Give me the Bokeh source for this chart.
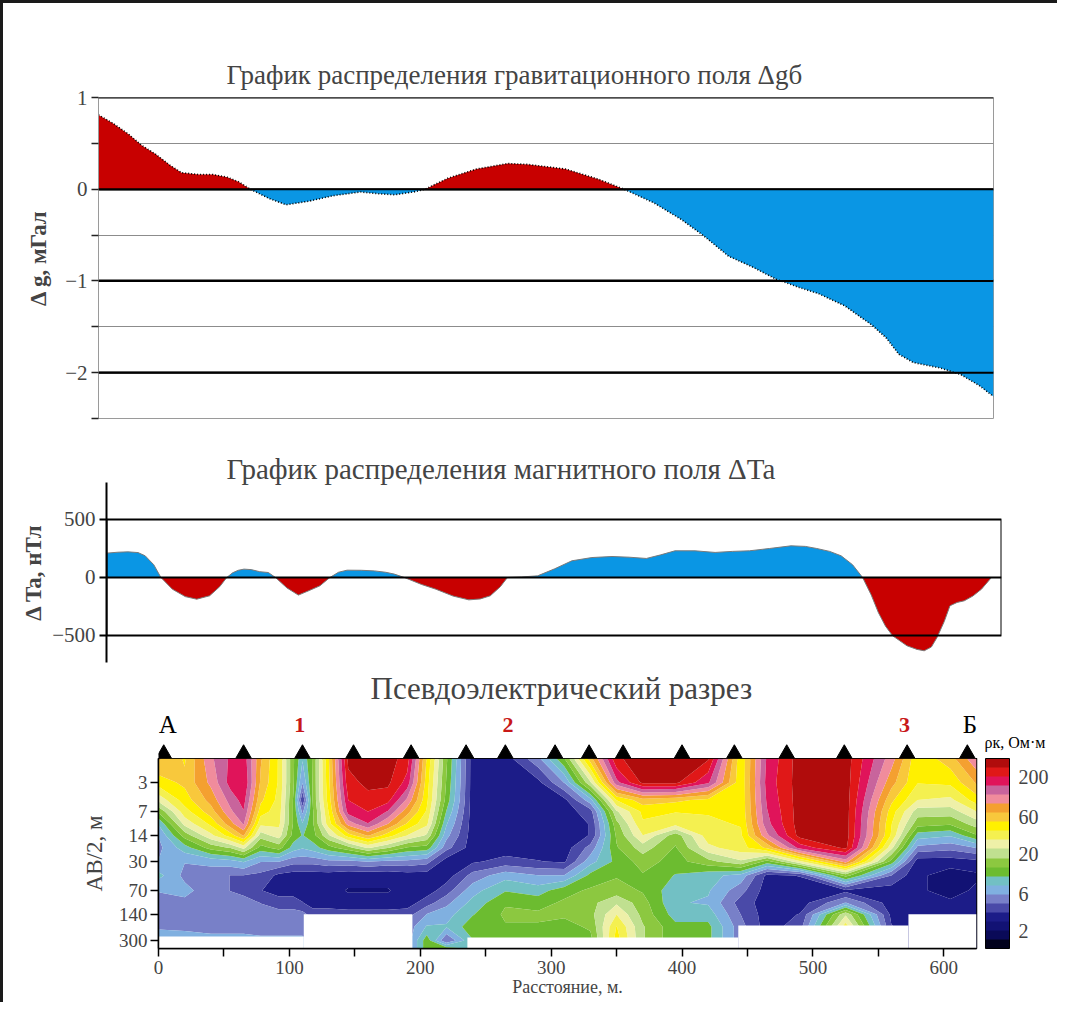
import numpy as np
from bokeh.plotting import figure
from bokeh.layouts import column
from bokeh.models import (Range1d, FixedTicker, Span, ColorBar, LogColorMapper,
                          PrintfTickFormatter, CustomJSTickFormatter)
from bokeh.core.properties import value
from bokeh.embed import file_html
from bokeh.resources import INLINE

# ---------------- data ----------------
# gravity anomaly Δg (mGal) along the profile, distance in m
grav_dist = [0, 10, 21, 30, 40, 50, 58, 70, 80, 90, 98, 106, 119, 131, 147, 164, 183, 196,
             207, 220, 228, 244, 264, 286, 300, 326, 349, 367, 388, 407, 422, 440, 457, 473,
             489, 503, 521, 540, 550, 559, 569, 588, 602, 615, 625]
grav_val = [0.81, 0.72, 0.60, 0.48, 0.38, 0.26, 0.18, 0.16, 0.16, 0.13, 0.08, 0.0, -0.10, -0.17,
            -0.13, -0.07, -0.03, -0.05, -0.06, -0.03, 0.0, 0.12, 0.22, 0.28, 0.27, 0.22, 0.11,
            0.0, -0.15, -0.33, -0.50, -0.73, -0.85, -0.98, -1.07, -1.14, -1.27, -1.48, -1.62,
            -1.80, -1.89, -1.95, -2.02, -2.14, -2.26]
grav_ticks = [-2, -1, 0, 1]
grav_minor_ticks = [-2.5, -1.5, -0.5, 0.5]

# magnetic anomaly ΔTa (nT)
mag_dist = [0, 8, 15, 22, 27, 33, 38, 46, 55, 63, 72, 79, 84, 88, 92, 96, 101, 107, 113, 118,
            126, 134, 142, 149, 156, 162, 168, 178, 187, 195, 201, 208, 220, 230, 242, 253,
            261, 268, 275, 280, 290, 301, 313, 325, 339, 353, 365, 377, 387, 397, 411, 425,
            437, 449, 463, 478, 488, 496, 505, 513, 521, 528, 534, 539, 544, 549, 559, 566,
            571, 576, 580, 585, 589, 594, 599, 605, 611, 618]
mag_val = [210, 218, 221, 215, 187, 110, 0, -101, -165, -187, -158, -80, 0, 40, 62, 72, 68,
           50, 43, 0, -90, -152, -110, -72, 0, 45, 63, 62, 57, 45, 29, 0, -60, -101, -160, -193,
           -185, -158, -80, 0, 5, 14, 75, 144, 172, 181, 175, 164, 195, 230, 230, 216, 225, 230,
           250, 273, 268, 250, 225, 187, 110, 0, -150, -302, -420, -503, -589, -620, -632,
           -600, -517, -380, -244, -215, -201, -160, -101, 0]
mag_ticks = [-500, 0, 500]

# pseudo-section: apparent resistivity (Ohm*m), one list per distance, top -> bottom
sec_dist = [0, 20, 40, 55, 65, 78, 92, 103, 110, 118, 130, 145, 160, 175, 190, 205, 220, 240,
            265, 290, 310, 330, 350, 370, 395, 420, 445, 465, 490, 525, 560, 580, 605, 625]
sec_ab2 = [1.5, 3, 5, 7, 10, 14, 20, 30, 45, 70, 100, 140, 200, 300, 380]
sec_rho = [
    [70, 45, 25, 14, 8, 6, 5.5, 6, 8.5, 6, 5.5, 5.5, 5.5, 8, 8],
    [50, 55, 45, 35, 25, 15, 9, 6, 5.5, 6.5, 5.5, 5.5, 5.5, 7, 8],
    [110, 95, 75, 60, 42, 28, 15, 6.5, 5, 5, 5, 5, 5, 7, 8],
    [160, 170, 130, 110, 80, 45, 18, 7, 4.5, 4.5, 5, 5, 5, 7, 8],
    [180, 200, 170, 150, 120, 70, 25, 8, 4.5, 4.2, 5, 5, 5, 7, 8],
    [70, 65, 55, 45, 32, 20, 12, 6, 4.2, 3.5, 4.5, 5, 5, 6.5, 7],
    [38, 38, 36, 34, 32, 26, 15, 6, 3.2, 3, 4, 5, 5, 6.5, 7],
    [14, 14, 13, 13, 13, 12, 9, 5, 3, 3, 4, 5, 5, 6.5, 7],
    [8, 6, 3.5, 5.5, 8, 10, 8, 5, 3, 3, 3.5, 5, 5, 6.5, 7],
    [14, 14, 14, 13, 13, 12, 9, 5, 3, 2.8, 3, 4, 5, 5, 5],
    [50, 48, 45, 40, 35, 22, 12, 5.5, 3, 2.8, 3, 4, 5, 5, 5],
    [280, 240, 200, 170, 100, 45, 16, 5.5, 2.8, 2.6, 2.8, 4, 5, 5, 5],
    [300, 280, 240, 200, 150, 70, 24, 6, 2.8, 2.6, 2.8, 4, 5, 5, 5],
    [300, 280, 220, 150, 90, 45, 18, 5.5, 2.8, 2.6, 2.8, 4, 5, 5, 5],
    [230, 180, 110, 75, 50, 30, 13, 5.5, 3, 2.8, 3, 4, 5, 5, 5],
    [50, 45, 42, 38, 32, 22, 12, 5, 3, 3, 4, 6, 8, 12, 12],
    [14, 13, 12, 10, 8, 6.5, 5, 3, 3, 4, 5.5, 7, 8, 4.5, 12],
    [3, 3, 3, 3, 3, 3, 3, 3.3, 5, 7, 8.5, 10, 12, 10, 10],
    [3, 3, 3, 3, 3, 3, 3, 3.8, 7, 10, 13, 14, 13, 12, 12],
    [5.5, 3.2, 3, 3, 3, 3, 3, 3.5, 6, 9, 12, 14, 13, 12, 12],
    [13, 6, 3.2, 3, 3, 3, 3, 3.3, 6, 12, 14, 14, 12, 11, 11],
    [60, 22, 7, 4, 3.5, 3.5, 5, 7, 11, 14, 16, 16, 14, 12, 12],
    [250, 140, 40, 22, 16, 14, 13, 11, 13, 15, 22, 30, 40, 45, 45],
    [300, 280, 60, 42, 38, 30, 20, 15, 13, 13, 15, 16, 18, 18, 18],
    [300, 280, 55, 40, 33, 15, 13, 12, 10, 8.5, 8, 9, 11, 11, 11],
    [270, 160, 48, 40, 38, 35, 28, 16, 8.5, 8, 7.5, 9, 11, 11, 11],
    [42, 42, 42, 42, 40, 38, 35, 22, 7, 5, 4, 4.5, 5, 5, 5],
    [160, 170, 160, 150, 140, 110, 55, 12, 3.2, 3, 3, 3, 3, 3, 3],
    [300, 300, 300, 300, 300, 290, 170, 28, 3.5, 3, 3, 3.5, 4, 3, 3],
    [300, 300, 300, 300, 300, 300, 280, 100, 15, 3.2, 6, 22, 35, 35, 35],
    [100, 75, 55, 45, 40, 38, 25, 12, 4.5, 3, 3, 3.2, 3.5, 3.5, 3.5],
    [42, 40, 30, 20, 15, 9, 5.5, 3, 2.8, 2.8, 2.8, 3, 3, 3, 3],
    [60, 42, 28, 20, 14, 8, 5, 3, 2.3, 2.3, 2.8, 3, 3, 3, 3],
    [110, 70, 45, 30, 20, 13, 6, 3.2, 2.5, 2.8, 3, 3, 3, 3, 3],
]
# no-data (blank) parts at the bottom of the section
nodata_start = [0, 111, 236, 443, 573]
nodata_end = [111, 194, 443, 573, 625]
nodata_top = [267, 139, 275, 194, 139]

depth_ticks = [3, 7, 14, 30, 70, 140, 300]
dist_ticks = [0, 100, 200, 300, 400, 500, 600]
dist_minor_ticks = [50, 150, 250, 350, 450, 550]
rho_ticks = [2, 6, 20, 60, 200]

# stations on the profile
sta_dist = [4, 65, 110, 149, 193, 235, 265, 303, 329, 355, 400, 440, 480, 524, 572, 618]
end_labels = ["А", "Б"]
end_label_dist = [7, 620]
point_labels = ["1", "2", "3"]
point_label_dist = [108, 267, 570]

# ---------------- style ----------------
SERIF = "Liberation Serif"
RED = "#c80000"
BLUE = "#0a96e4"
RHO_LOW, RHO_HIGH = 1.17, 343.0
PALETTE = ["#02021c", "#0a0a58", "#121274", "#1c1c88", "#4a4aa8", "#7880c8", "#80b0e0",
           "#72c0c4", "#6cbc30", "#8cc840", "#c0e090", "#eef0a8", "#f4f050", "#fff000",
           "#f8c83c", "#f4a030", "#f08c9c", "#c8649c", "#e0145a", "#e01818", "#b00c0c"]
X_END = 625
LEFT = 95
SEC_W = 818
SEC_H = 190
HEAD_W = 902


def style_title(p, size, offset, standoff):
    p.title.text_font = SERIF
    p.title.text_font_size = size
    p.title.text_font_style = "normal"
    p.title.align = "left"
    p.title.offset = offset
    p.title.standoff = standoff


# ---------------- gravity ----------------
p1 = figure(frame_width=895, frame_height=321, min_border_left=LEFT, min_border_right=30,
            min_border_top=94, min_border_bottom=24, x_range=Range1d(0, X_END),
            y_range=Range1d(-2.5, 1), output_backend="svg", toolbar_location=None,
            title="График распределения гравитационного поля Δgб")
style_title(p1, "27px", 128, 15)
gv = np.array(grav_val)
p1.varea(x=grav_dist, y1=0, y2=np.maximum(gv, 0), fill_color=RED)
p1.varea(x=grav_dist, y1=0, y2=np.minimum(gv, 0), fill_color=BLUE)
p1.line(grav_dist, grav_val, line_color="black", line_width=1.6, line_dash="1 2")
for t in grav_ticks:
    p1.add_layout(Span(location=t, dimension="width", line_color="black", line_width=2))
p1.xaxis.visible = False
p1.xgrid.grid_line_color = None
p1.ygrid.grid_line_color = "black"
p1.ygrid.grid_line_width = 2
p1.ygrid.minor_grid_line_color = "#8c8c8c"
p1.ygrid.minor_grid_line_width = 1
p1.yaxis.ticker = FixedTicker(ticks=grav_ticks, minor_ticks=grav_minor_ticks)
p1.yaxis.axis_line_color = "#9a9a9a"
p1.yaxis.major_tick_out = 7
p1.yaxis.major_tick_in = 0
p1.yaxis.minor_tick_out = 7
p1.yaxis.minor_tick_in = 0
p1.yaxis.major_tick_line_color = "#222222"
p1.yaxis.minor_tick_line_color = "#222222"
p1.yaxis.major_tick_line_width = 1.5
p1.yaxis.minor_tick_line_width = 1.5
p1.yaxis.major_label_text_font = SERIF
p1.yaxis.major_label_text_font_size = "21px"
p1.yaxis.major_label_standoff = 4
p1.yaxis.axis_label = "Δ g, мГал"
p1.yaxis.axis_label_text_font = SERIF
p1.yaxis.axis_label_text_font_size = "23px"
p1.yaxis.axis_label_text_font_style = "bold"
p1.yaxis.axis_label_standoff = 11
p1.outline_line_color = "#9a9a9a"

# ---------------- magnetic ----------------
p2 = figure(frame_width=895, frame_height=180, min_border_left=LEFT, min_border_right=30,
            min_border_top=40, min_border_bottom=6, x_range=Range1d(0, X_END),
            y_range=Range1d(-733, 819), output_backend="svg", toolbar_location=None,
            title="График распределения магнитного поля ΔTa",
            styles={"margin-left": "8px"})
style_title(p2, "29px", 120, -5)
mv = np.array(mag_val)
p2.varea(x=mag_dist, y1=0, y2=np.maximum(mv, 0), fill_color=BLUE)
p2.varea(x=mag_dist, y1=0, y2=np.minimum(mv, 0), fill_color=RED)
p2.line(mag_dist, mag_val, line_color="#7a7a7a", line_width=1)
p2.quad(left=0, right=X_END, bottom=mag_ticks[0], top=mag_ticks[-1], fill_color=None,
        line_color="black", line_width=2)
p2.add_layout(Span(location=0, dimension="width", line_color="black", line_width=2))
p2.xaxis.visible = False
p2.grid.grid_line_color = None
p2.outline_line_color = None
p2.yaxis.ticker = FixedTicker(ticks=mag_ticks)
p2.yaxis.axis_line_width = 2
p2.yaxis.major_tick_out = 7
p2.yaxis.major_tick_in = 0
p2.yaxis.major_tick_line_width = 2
p2.yaxis.minor_tick_line_color = None
p2.yaxis.major_label_text_font = SERIF
p2.yaxis.major_label_text_font_size = "21px"
p2.yaxis.major_label_standoff = 4
p2.yaxis.axis_label = "Δ Ta, нТл"
p2.yaxis.axis_label_text_font = SERIF
p2.yaxis.axis_label_text_font_size = "23px"
p2.yaxis.axis_label_text_font_style = "bold"
p2.yaxis.axis_label_standoff = 3

# ---------------- section header (stations) ----------------
HEAD_X_END = X_END * HEAD_W / SEC_W
p3 = figure(frame_width=HEAD_W, frame_height=53, min_border_left=LEFT, min_border_right=0,
            min_border_top=36, min_border_bottom=0, x_range=Range1d(0, HEAD_X_END),
            y_range=Range1d(0, 1), output_backend="svg", toolbar_location=None,
            title="Псевдоэлектрический разрез", styles={"margin-left": "60px"})
style_title(p3, "31px", 212, 0)
p3.axis.visible = False
p3.grid.grid_line_color = None
p3.outline_line_color = None
p3.scatter(x=sta_dist, y=0.085, marker="triangle", size=16, color="black")
p3.text(x=end_label_dist, y=0.64, text=end_labels, text_font=value(SERIF),
        text_font_size="25px", text_align="center", text_baseline="middle", text_color="black")
p3.text(x=point_label_dist, y=0.64, text=point_labels, text_font=value(SERIF),
        text_font_size="22px", text_font_style="bold", text_align="center",
        text_baseline="middle", text_color="#c81818")
p3.text(x=[X_END], y=[0.3], x_offset=8, text=["ρк, Ом·м"], text_font=value(SERIF),
        text_font_size="16px", text_align="left", text_baseline="middle", text_color="black")

# ---------------- pseudo-section ----------------
y_top = np.log10(1.49)
y_bot = np.log10(378.0)
p4 = figure(frame_width=SEC_W, frame_height=SEC_H, min_border_left=LEFT, min_border_right=40,
            min_border_top=0, min_border_bottom=54, x_range=Range1d(0, X_END),
            y_range=Range1d(y_bot, y_top), output_backend="svg", toolbar_location=None,
            styles={"margin-left": "60px"})
z = np.log10(np.array(sec_rho, dtype=float).T)
levels = np.linspace(np.log10(RHO_LOW), np.log10(RHO_HIGH), len(PALETTE) + 1)
p4.contour(x=np.array(sec_dist, dtype=float), y=np.log10(np.array(sec_ab2, dtype=float)),
           z=z, levels=levels, fill_color=PALETTE)
p4.quad(left=nodata_start, right=nodata_end, top=np.log10(nodata_top), bottom=y_bot,
        fill_color="white", line_color=None)
p4.grid.grid_line_color = None
p4.outline_line_color = "black"
p4.outline_line_width = 1.5
p4.yaxis.ticker = FixedTicker(ticks=list(np.log10(depth_ticks)))
p4.yaxis.formatter = CustomJSTickFormatter(code="return Math.round(Math.pow(10, tick)).toString();")
p4.xaxis.ticker = FixedTicker(ticks=dist_ticks, minor_ticks=dist_minor_ticks)
for ax in (p4.xaxis[0], p4.yaxis[0]):
    ax.axis_line_width = 1.5
    ax.major_tick_out = 8
    ax.major_tick_in = 0
    ax.major_tick_line_width = 1.5
    ax.major_label_text_font = SERIF
    ax.major_label_text_font_size = "19px"
    ax.axis_label_text_font = SERIF
    ax.axis_label_text_font_style = "normal"
p4.xaxis.minor_tick_out = 8
p4.xaxis.minor_tick_in = 0
p4.xaxis.minor_tick_line_width = 1.5
p4.yaxis.minor_tick_line_color = None
p4.yaxis.major_label_standoff = 3
p4.xaxis.major_label_standoff = 4
p4.xaxis.axis_label = "Расстояние, м."
p4.xaxis.axis_label_text_font_size = "18px"
p4.xaxis.axis_label_standoff = 0
p4.yaxis.axis_label = "AB/2, м"
p4.yaxis.axis_label_text_font_size = "23px"
p4.yaxis.axis_label_standoff = 9

cmap = LogColorMapper(palette=PALETTE, low=RHO_LOW, high=RHO_HIGH)
cb = ColorBar(color_mapper=cmap, ticker=FixedTicker(ticks=rho_ticks),
              formatter=PrintfTickFormatter(format="%d"), width=24, height=SEC_H,
              location=(9, 0), padding=0, margin=0,
              bar_line_color="black", bar_line_width=1, major_tick_line_color=None,
              major_label_text_font=SERIF, major_label_text_font_size="20px",
              label_standoff=9, border_line_color=None, background_fill_color=None)
p4.add_layout(cb, "right")

layout = column(p1, p2, p3, p4, width=1057,
                styles={"border-top": "3px solid #1a1a1a", "border-left": "3px solid #1a1a1a"})
open("out.html", "w").write(file_html(layout, INLINE))
